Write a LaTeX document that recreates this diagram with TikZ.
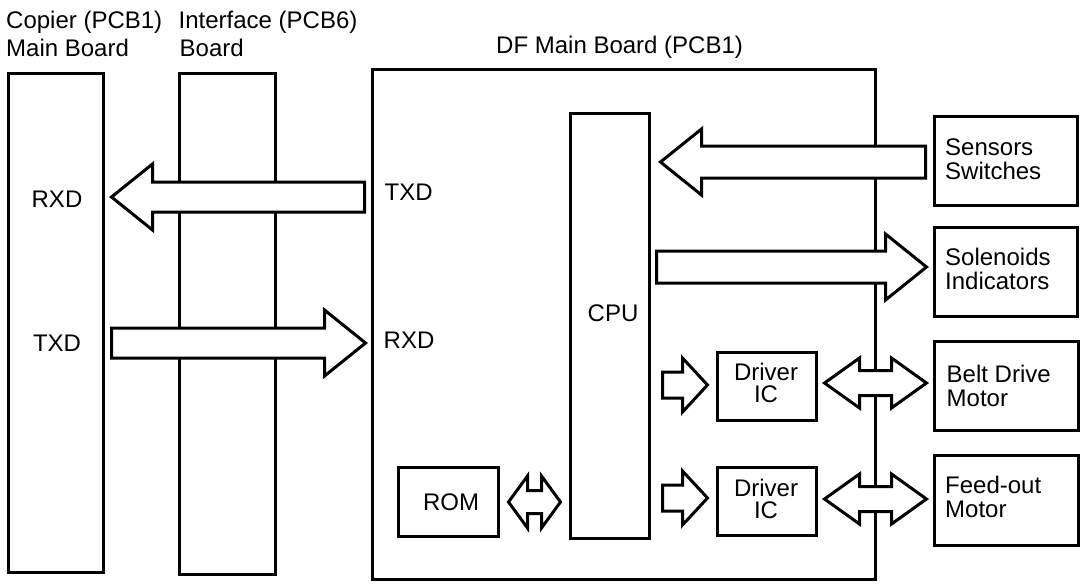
\documentclass[tikz,border=0pt]{standalone}
\usepackage{fontspec}
\setmainfont{Liberation Sans}
\usetikzlibrary{calc}

% rectangular block given by the centres of its border lines
\newcommand\blockbox[5]{%
  \node[board, minimum width={#4pt-#2pt}, minimum height={#5pt-#3pt}]
    (#1) at ({(#2+#4)/2},{(#3+#5)/2}) {};}

% hollow single arrow: tail point, tip point, body half-width, head half-width, head length
\newcommand\sblock[5]{%
  \filldraw[blk] let \p1=#1, \p2=#2, \n1={(\x2>\x1)?1:-1} in
    (\x1,{\y2+#3pt}) -- ({\x2-\n1*#5pt},{\y2+#3pt}) -- ({\x2-\n1*#5pt},{\y2+#4pt})
    -- (\x2,\y2) -- ({\x2-\n1*#5pt},{\y2-#4pt}) -- ({\x2-\n1*#5pt},{\y2-#3pt})
    -- (\x1,{\y2-#3pt}) -- cycle;}

% hollow double arrow: left tip, right tip, body half-width, head half-width, head length
\newcommand\dblock[5]{%
  \filldraw[blk] let \p1=#1, \p2=#2 in
    (\x1,\y2) -- ({\x1+#5pt},{\y2+#4pt}) -- ({\x1+#5pt},{\y2+#3pt})
    -- ({\x2-#5pt},{\y2+#3pt}) -- ({\x2-#5pt},{\y2+#4pt}) -- (\x2,\y2)
    -- ({\x2-#5pt},{\y2-#4pt}) -- ({\x2-#5pt},{\y2-#3pt})
    -- ({\x1+#5pt},{\y2-#3pt}) -- ({\x1+#5pt},{\y2-#4pt}) -- cycle;}

\begin{document}
\begin{tikzpicture}[x=1pt,y=-1pt,
  board/.style={draw, line width=3pt, rectangle, inner sep=0pt},
  lbl/.style={inner sep=0pt, font=\fontsize{24}{23.5}\selectfont},
  blk/.style={draw, fill=white, line width=3pt, line join=miter}]
\useasboundingbox (0,0) rectangle (1083,584);

% boards and blocks
\blockbox{copier}{8.5}{73.5}{103.5}{572.5}
\blockbox{iface}{179}{73.5}{275.5}{574.5}
\blockbox{df}{372.5}{69.5}{875}{579}
\blockbox{cpu}{570.5}{113.5}{649}{538.5}
\blockbox{rom}{398.5}{467.5}{498}{536.5}
\blockbox{drvA}{717.5}{352.5}{816.5}{420}
\blockbox{drvB}{717.5}{467.5}{816.5}{535.5}
\blockbox{sensors}{934}{116.5}{1077.5}{205.5}
\blockbox{solen}{934}{227.5}{1077.5}{316.5}
\blockbox{belt}{934}{341.5}{1078}{430}
\blockbox{feed}{934}{455.5}{1078}{545}

% rows of the signal arrows
\coordinate (rowTX) at (0,197);
\coordinate (rowRX) at (0,343);
\coordinate (rowSen) at (0,162);
\coordinate (rowSol) at (0,267);
\coordinate (rowDA) at (0,385);
\coordinate (rowDB) at (0,498);
\coordinate (rowMA) at (0,383);
\coordinate (rowMB) at (0,499);
\coordinate (rowROM) at (0,502);

% serial lines between the boards
\sblock{($(df.west|-rowTX)+(-6.5,0)$)}{($(copier.east|-rowTX)+(6.5,0)$)}{15}{33}{41}
\sblock{($(copier.east|-rowRX)+(6.5,0)$)}{($(df.west|-rowRX)+(-5.5,0)$)}{15}{33}{41}

% inputs and outputs of the CPU
\sblock{($(sensors.west|-rowSen)+(-7,0)$)}{($(cpu.east|-rowSen)+(10,0)$)}{16}{33}{41}
\sblock{($(cpu.east|-rowSol)+(6,0)$)}{($(solen.west|-rowSol)+(-6,0)$)}{16}{33}{41}
\sblock{($(cpu.east|-rowDA)+(12,0)$)}{($(drvA.west|-rowDA)+(-8.5,0)$)}{13}{27}{25}
\sblock{($(cpu.east|-rowDB)+(12,0)$)}{($(drvB.west|-rowDB)+(-8.5,0)$)}{13}{27}{25}
\dblock{($(drvA.east|-rowMA)+(6.5,0)$)}{($(belt.west|-rowMA)+(-6,0)$)}{12.5}{25}{35}
\dblock{($(drvB.east|-rowMB)+(6.5,0)$)}{($(feed.west|-rowMB)+(-6,0)$)}{12.5}{25}{35}
\dblock{($(rom.east|-rowROM)+(9,0)$)}{($(cpu.west|-rowROM)+(-8.5,0)$)}{11.5}{26}{19}

% labels (for two-line labels the base anchor sits on the last line)
\node[lbl, anchor=base west] (tCopA) at (6,28) {Copier (PCB1)};
\node[lbl, anchor=base west] (tCopB) at (6,56) {Main Board};
\node[lbl, anchor=base west] (tIfA) at (178.5,28) {Interface (PCB6)};
\node[lbl, anchor=base west] (tIfB) at (179.5,56) {Board};
\node[lbl, anchor=base west] (tDF) at (496,53) {DF Main Board (PCB1)};
\node[lbl, anchor=base] (tRxdC) at (57,207) {RXD};
\node[lbl, anchor=base] (tTxdC) at (57,351) {TXD};
\node[lbl, anchor=base west] (tTxdD) at (384.5,200) {TXD};
\node[lbl, anchor=base west] (tRxdD) at (383.5,348) {RXD};
\node[lbl, anchor=base] (tCpu) at (613,321) {CPU};
\node[lbl, anchor=base] (tRom) at (451,510) {ROM};
\node[lbl, anchor=base west, align=left] (tSen) at (945,179) {Sensors\\Switches};
\node[lbl, anchor=base west, align=left] (tSol) at (945,289) {Solenoids\\Indicators};
\node[lbl, anchor=base west, align=left] (tBelt) at (946.5,406) {Belt Drive\\Motor};
\node[lbl, anchor=base west, align=left] (tFeed) at (945,517) {Feed-out\\Motor};
\node[lbl, anchor=base, align=center] (tDrvA) at (766,402) {Driver\\[-1.5pt]IC};
\node[lbl, anchor=base, align=center] (tDrvB) at (766,518) {Driver\\[-1.5pt]IC};
\end{tikzpicture}
\end{document}
